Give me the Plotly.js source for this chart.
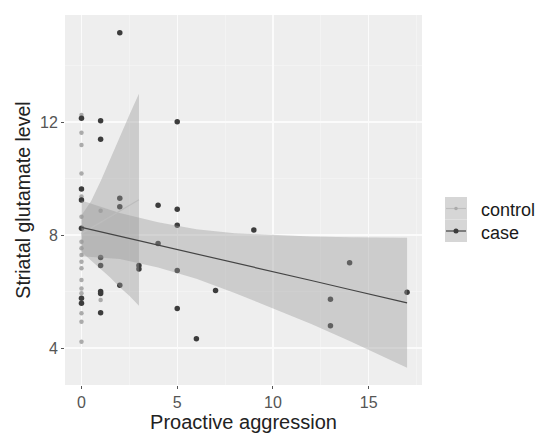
<!DOCTYPE html>
<html><head><meta charset="utf-8">
<script src="https://cdn.plot.ly/plotly-3.0.1.min.js"></script>
<style>body{margin:0;background:#fff}#g{width:542px;height:437px}</style>
</head><body><div id="g"></div>
<script>
const controlX = [0,0,0,0,0,0,0,0,0,0,0,0,0,0,0,0,0,0,1,1];
const controlY = [12.25,11.62,11.19,10.18,9.36,9.27,8.65,7.76,7.53,7.29,7.05,6.82,6.41,6.11,5.94,5.23,4.93,4.22,8.86,5.7];
const caseX = [0,1,5,1,2,0,2,2,4,5,5,9,0,4,1,1,3,3,5,2,7,1,1,1,5,6,0,0,14,17,13,13,0];
const caseY = [12.13,12.05,12.01,11.39,15.16,9.63,9.3,9.0,9.05,8.91,8.35,8.18,8.24,7.7,7.2,6.92,6.92,6.8,6.74,6.22,6.04,6.0,5.93,5.25,5.4,4.33,5.76,5.58,7.02,5.97,5.73,4.79,9.24];
// Fitted lines and confidence bands
const controlFitX = [0,0.5,1,1.5,2,2.5,3];
const controlFitY = [8.05,8.25,8.45,8.65,8.85,9.05,9.25];
const controlLo = [7.4,7.1,6.8,6.5,6.15,5.85,5.5];
const controlHi = [8.7,9.2,9.9,10.7,11.5,12.25,13.0];
const caseFitX = [0,2,4,6,8,10,12,14,17];
const caseFitY = [8.27,7.96,7.64,7.33,7.01,6.70,6.39,6.07,5.60];
const caseLo = [7.25,7.15,6.85,6.45,5.95,5.4,4.85,4.25,3.3];
const caseHi = [9.22,8.78,8.45,8.2,8.06,8.0,7.95,7.92,7.9];
const xTicks = [0,5,10,15];
const yTicks = [4,8,12];
const groups = ["control","case"];

function band(x, lo, hi){
  return {x: x.concat(x.slice().reverse()), y: hi.concat(lo.slice().reverse())};
}
const cb = band(controlFitX, controlLo, controlHi);
const kb = band(caseFitX, caseLo, caseHi);
const ribbon = 'rgba(153,153,153,0.4)';
const colCtrl = '#ababab', colCase = '#3c3c3c';

const traces = [
  {x: controlX, y: controlY, mode:'markers', type:'scatter', marker:{color:colCtrl,size:4.5}, showlegend:false, hoverinfo:'skip'},
  {x: caseX, y: caseY, mode:'markers', type:'scatter', marker:{color:colCase,size:5.5}, showlegend:false, hoverinfo:'skip'},
  {x: cb.x, y: cb.y, mode:'lines', fill:'toself', fillcolor:ribbon, line:{width:0}, showlegend:false, hoverinfo:'skip'},
  {x: kb.x, y: kb.y, mode:'lines', fill:'toself', fillcolor:ribbon, line:{width:0}, showlegend:false, hoverinfo:'skip'},
  {x: controlFitX, y: controlFitY, mode:'lines', line:{color:'#bdbdbd',width:1.2}, showlegend:false, hoverinfo:'skip'},
  {x: caseFitX, y: caseFitY, mode:'lines', line:{color:'#444444',width:1.2}, showlegend:false, hoverinfo:'skip'}
];

// legend drawn in paper coords
const L=65, R=422, T=15, B=385;
const px = v => (v-L)/(R-L);
const py = v => (B-v)/(B-T);
const shapes = [
  {type:'rect', xref:'paper', yref:'paper', x0:px(445), x1:px(467), y0:py(219.5), y1:py(197), fillcolor:'#d6d6d6', line:{width:0}},
  {type:'rect', xref:'paper', yref:'paper', x0:px(445), x1:px(467), y0:py(242), y1:py(219.5), fillcolor:'#d6d6d6', line:{width:0}},
  {type:'line', xref:'paper', yref:'paper', x0:px(446), x1:px(466), y0:py(208.5), y1:py(208.5), line:{color:'#bdbdbd',width:1.2}},
  {type:'line', xref:'paper', yref:'paper', x0:px(446), x1:px(466), y0:py(231), y1:py(231), line:{color:'#404040',width:1.2}},
  {type:'circle', xref:'paper', yref:'paper', x0:px(454.2), x1:px(457.8), y0:py(206.7), y1:py(210.3), fillcolor:colCtrl, line:{width:0}},
  {type:'circle', xref:'paper', yref:'paper', x0:px(453.5), x1:px(458.5), y0:py(228.5), y1:py(233.5), fillcolor:colCase, line:{width:0}}
];
const annotations = [
  {xref:'paper', yref:'paper', x:px(479), y:py(210), text:groups[0], showarrow:false, xanchor:'left', yanchor:'middle', font:{size:18,color:'#1a1a1a'}},
  {xref:'paper', yref:'paper', x:px(479), y:py(233), text:groups[1], showarrow:false, xanchor:'left', yanchor:'middle', font:{size:18,color:'#1a1a1a'}}
];

const layout = {
  width:542, height:437,
  margin:{l:L, r:542-R, t:T, b:437-B},
  paper_bgcolor:'#ffffff', plot_bgcolor:'#eeeeee',
  font:{family:'Liberation Sans, Arial, sans-serif'},
  showlegend:false,
  xaxis:{range:[-0.86,17.78], tickvals:xTicks, ticktext:xTicks.map(String), showgrid:true, gridcolor:'#fbfbfb', gridwidth:1.2,
    minor:{tickvals:[2.5,7.5,12.5,17.5], showgrid:true, gridcolor:'#f6f6f6', gridwidth:0.6, ticks:''},
    zeroline:false, showline:false, ticks:'outside', ticklen:3, tickcolor:'#555', tickwidth:1,
    tickfont:{size:16,color:'#555'},
    title:{text:'Proactive aggression', font:{size:20,color:'#222'}, standoff:0}},
  yaxis:{range:[2.69,15.79], tickvals:yTicks, ticktext:yTicks.map(String), showgrid:true, gridcolor:'#fbfbfb', gridwidth:1.2,
    minor:{tickvals:[2,6,10,14], showgrid:true, gridcolor:'#f6f6f6', gridwidth:0.6, ticks:''},
    zeroline:false, showline:false, ticks:'outside', ticklen:3, tickcolor:'#555', tickwidth:1,
    tickfont:{size:16,color:'#555'},
    title:{text:'Striatal glutamate level', font:{size:19.5,color:'#222'}, standoff:4}},
  shapes:shapes, annotations:annotations
};
Plotly.newPlot('g', traces, layout, {staticPlot:true, displayModeBar:false});
</script></body></html>
